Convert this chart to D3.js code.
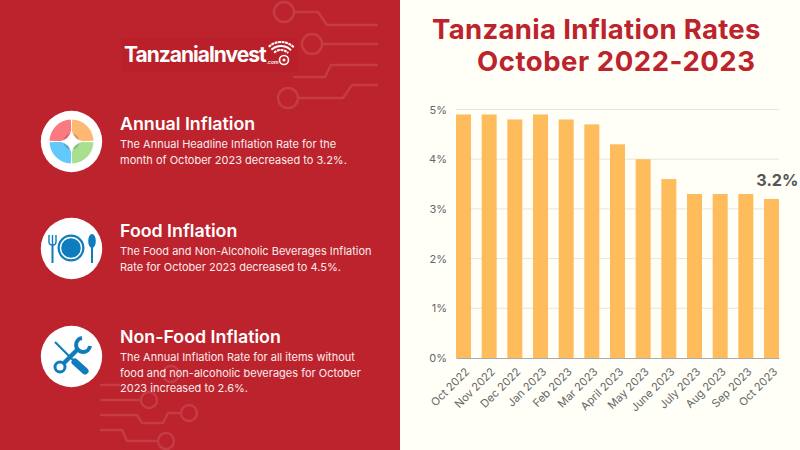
<!DOCTYPE html>
<html>
<head>
<meta charset="utf-8">
<script src="https://cdn.jsdelivr.net/npm/d3@7"></script>
<style>
  html, body { margin: 0; padding: 0; background: #fffff8; }
  svg { display: block; }
  text { font-family: Inter, "Open Sans", sans-serif; }
</style>
</head>
<body>
<div id="chart"></div>
<script>
var months = ["Oct 2022", "Nov 2022", "Dec 2022", "Jan 2023", "Feb 2023", "Mar 2023", "April 2023",
  "May 2023", "June 2023", "July 2023", "Aug 2023", "Sep 2023", "Oct 2023"];
var rates = [4.9, 4.9, 4.8, 4.9, 4.8, 4.7, 4.3, 4.0, 3.6, 3.3, 3.3, 3.3, 3.2];
var yTicks = [0, 1, 2, 3, 4, 5];
var titleLines = ["Tanzania Inflation Rates", "October 2022-2023"];
var sectionTitles = ["Annual Inflation", "Food Inflation", "Non-Food Inflation"];
var sectionTexts = [
  ["The Annual Headline Inflation Rate for the", "month of October 2023 decreased to 3.2%."],
  ["The Food and Non-Alcoholic Beverages Inflation", "Rate for October 2023 decreased to 4.5%."],
  ["The Annual Inflation Rate for all items without", "food and non-alcoholic beverages for October", "2023 increased to 2.6%."]
];

var width = 800, height = 450;
var red = "#bc232c", blue = "#0f7cbd";

var svg = d3.select("#chart").append("svg")
  .attr("width", width)
  .attr("height", height);

svg.append("rect").attr("width", width).attr("height", height).attr("fill", "#fffff8");
svg.append("rect").attr("width", 400).attr("height", height).attr("fill", red);

// circuit decoration
var deco = svg.append("g").attr("fill", "none").attr("stroke", "#cb4a51").attr("stroke-width", 2.5).attr("opacity", 0.65);
var line = d3.line();
[
  [[294, 12], [318, 12], [327, 25], [378, 25]],
  [[322, 44], [378, 44]],
  [[293, 77], [325, 77], [331, 65], [378, 65]],
  [[298, 98], [343, 98], [352, 85], [378, 85]],
  [[100, 385], [120, 385]],
  [[100, 400], [141, 400]],
  [[100, 415], [137, 415], [142, 423], [163, 423], [168, 413], [181, 413]],
  [[100, 430], [122, 430], [127, 441], [158, 441]]
].forEach(function(p) { deco.append("path").attr("d", line(p)); });
[[284, 12, 10], [312, 44, 10], [288, 98, 10], [171, 374, 8], [149, 400, 8], [189, 413, 8], [166, 441, 8]]
  .forEach(function(c) { deco.append("circle").attr("cx", c[0]).attr("cy", c[1]).attr("r", c[2]); });

// logo
var logo = svg.append("g");
logo.append("rect").attr("x", 122).attr("y", 38).attr("width", 176).attr("height", 34).attr("fill", "#b9202a");
logo.append("text").attr("x", 124).attr("y", 62).attr("fill", "#fff")
  .attr("font-size", 21).attr("font-weight", 700).attr("letter-spacing", -1).text("TanzaniaInvest");
logo.append("text").attr("x", 266.5).attr("y", 64).attr("fill", "#fff")
  .attr("font-size", 5).attr("font-weight", 600).text(".com");
var wifi = logo.append("g").attr("fill", "none").attr("stroke", "#fff").attr("transform", "translate(281,60)");
[10, 14, 18].forEach(function(r) {
  wifi.append("path").attr("stroke-width", 2).attr("stroke-dasharray", "2.5 1")
    .attr("d", d3.arc()({innerRadius: r, outerRadius: r, startAngle: -0.75, endAngle: 0.8}));
});
logo.append("circle").attr("cx", 284).attr("cy", 60).attr("r", 4.5).attr("fill", "none").attr("stroke", "#fff").attr("stroke-width", 1.6);
logo.append("circle").attr("cx", 284).attr("cy", 60).attr("r", 1.5).attr("fill", "#fff");

// left section text
var sectionY = [124, 231, 337];
sectionTitles.forEach(function(t, i) {
  svg.append("text").attr("x", 120).attr("y", sectionY[i] + 6).attr("fill", "#fff")
    .attr("font-size", 17.8).attr("font-weight", 600).text(t);
  sectionTexts[i].forEach(function(s, j) {
    svg.append("text").attr("x", 120).attr("y", sectionY[i] + 24 + j * 15.5).attr("fill", "#fbeced")
      .attr("font-size", 11).text(s);
  });
});

// icons
var iconY = [141.5, 248.5, 356.5];
iconY.forEach(function(y) {
  svg.append("circle").attr("cx", 71.5).attr("cy", y).attr("r", 30.7).attr("fill", "#fff");
});

var pie = svg.append("g").attr("transform", "translate(71.5,141.5)");
var pieColors = ["#fdb871", "#a9e08f", "#63c9fb", "#fb7a80"];
pieColors.forEach(function(c, i) {
  pie.append("path").attr("fill", c)
    .attr("d", d3.arc()({innerRadius: 0, outerRadius: 22, startAngle: i * Math.PI / 2 + 0.03, endAngle: (i + 1) * Math.PI / 2 - 0.03}));
});
pie.append("circle").attr("r", 8).attr("fill", "#000").attr("opacity", 0.16);
pie.append("path").attr("fill", "#fff")
  .attr("d", "M0,-12Q2,-2 12,0Q2,2 0,12Q-2,2 -12,0Q-2,-2 0,-12Z");

var food = svg.append("g").attr("transform", "translate(71,248)");
food.append("circle").attr("r", 13.5).attr("fill", blue);
food.append("circle").attr("r", 10.5).attr("fill", "none").attr("stroke", "#fff").attr("stroke-width", 1.4);
food.append("path").attr("stroke", blue).attr("stroke-width", 2).attr("fill", "none")
  .attr("d", "M-18.5,-4V15");
food.append("path").attr("stroke", blue).attr("stroke-width", 1.4).attr("fill", "none")
  .attr("d", "M-22,-13V-6Q-22,-3 -18.5,-3Q-15,-3 -15,-6V-13M-18.5,-13V-3");
food.append("ellipse").attr("cx", 21).attr("cy", -7).attr("rx", 3.8).attr("ry", 7).attr("fill", blue);
food.append("path").attr("stroke", blue).attr("stroke-width", 2).attr("d", "M21,-3V15");

var tools = svg.append("g").attr("transform", "translate(71,356)");
tools.append("path").attr("stroke", blue).attr("stroke-width", 2.2).attr("d", "M-16,-14L2,4");
tools.append("path").attr("stroke", blue).attr("stroke-width", 7).attr("stroke-linecap", "round").attr("d", "M4,6L14,15");
tools.append("path").attr("stroke", blue).attr("stroke-width", 4.5).attr("fill", "none").attr("d", "M-7,7L8,-8");
tools.append("circle").attr("cx", -11).attr("cy", 11).attr("r", 5).attr("fill", "#fff").attr("stroke", blue).attr("stroke-width", 3);
tools.append("path").attr("stroke", blue).attr("stroke-width", 4).attr("fill", "none").attr("d", "M11,-18A7,7 0 1 0 19,-10");

// title
svg.append("text").attr("x", 432).attr("y", 39).attr("fill", red)
  .attr("font-size", 27.5).attr("font-weight", 700).attr("font-family", "Roboto, sans-serif").attr("letter-spacing", 0.33).text(titleLines[0]);
svg.append("text").attr("x", 477).attr("y", 71).attr("fill", red)
  .attr("font-size", 27.5).attr("font-weight", 700).attr("font-family", "Roboto, sans-serif").attr("letter-spacing", 0.55).text(titleLines[1]);

// chart
var x = d3.scaleBand().domain(months).range([456, 779]).paddingInner(0.416).paddingOuter(0);
var y = d3.scaleLinear().domain([0, 5]).range([358, 109.5]);

svg.append("g").selectAll("line").data(yTicks.slice(1)).enter().append("line")
  .attr("x1", 456).attr("x2", 779)
  .attr("y1", function(d) { return y(d); })
  .attr("y2", function(d) { return y(d); })
  .attr("stroke", "#e6e6df").attr("stroke-width", 1);

svg.append("g").selectAll("rect").data(rates).enter().append("rect")
  .attr("x", function(d, i) { return x(months[i]); })
  .attr("y", function(d) { return y(d); })
  .attr("width", x.bandwidth())
  .attr("height", function(d) { return y(0) - y(d); })
  .attr("fill", "#ffbc5c");

var yAxis = d3.axisLeft(y).tickValues(yTicks).tickSize(0).tickPadding(9).tickFormat(function(d) { return d + "%"; });
var yG = svg.append("g").attr("transform", "translate(456,0)").call(yAxis);
yG.select(".domain").remove();
yG.selectAll("text").attr("font-size", 11).attr("fill", "#666");

var xAxis = d3.axisBottom(x).tickSize(0);
var xG = svg.append("g").attr("transform", "translate(0,358)").call(xAxis);
xG.select(".domain").attr("stroke", "#aaa").attr("stroke-width", 1);
xG.selectAll("text")
  .attr("font-size", 11.1)
  .attr("fill", "#666")
  .attr("text-anchor", "end")
  .attr("dx", "-0.5em")
  .attr("dy", "1.06em")
  .attr("transform", "rotate(-45)");

svg.append("text").attr("x", 798.5).attr("y", 186).attr("text-anchor", "end")
  .attr("font-size", 16.2).attr("font-weight", 700).attr("fill", "#555").text("3.2%");
</script>
</body>
</html>
